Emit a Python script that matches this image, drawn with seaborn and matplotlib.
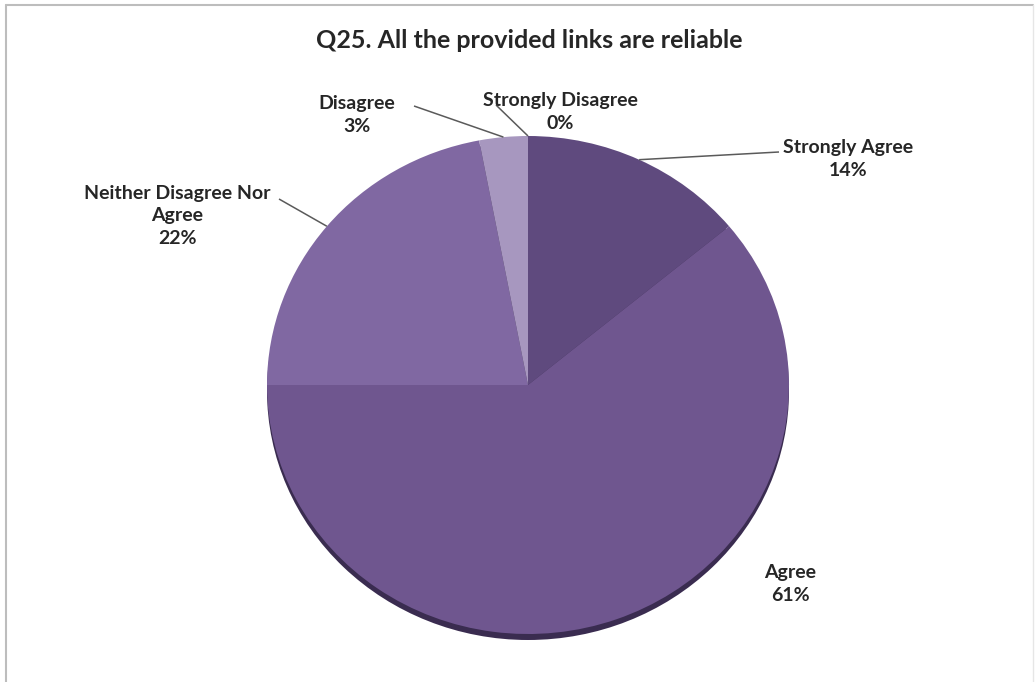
import numpy as np
import matplotlib
matplotlib.use("Agg")
import matplotlib.pyplot as plt
from matplotlib.patches import Ellipse
from matplotlib.lines import Line2D
import seaborn as sns

# Survey responses
categories = ["Strongly Agree", "Agree", "Neither Disagree Nor\nAgree", "Disagree", "Strongly Disagree"]
shares = [14, 61, 22, 3, 0]
title = "Q25. All the provided links are reliable"

sns.set_theme(style="white")
plt.rcParams["font.family"] = ["Lato", "DejaVu Sans"]

slice_colors = ["#5f4a7e", "#6f568f", "#8068a2", "#a797bf", "#b8aacd"]

W, H = 1036, 682
CX, CY = 528, 385     # pie centre (pixels from top-left)
RX, RY = 261, 249     # horizontal / vertical radius in pixels

fig = plt.figure(figsize=(W / 100, H / 100), dpi=100)
ax = fig.add_axes([0, 0, 1, 1])

def to_data(px, py):
    return (px - CX) / RX, (CY - py) / RY

# soft drop shadow under the pie
ax.add_patch(Ellipse((0, -6 / RY), 2, 2, facecolor="#3a2c50", edgecolor="none", zorder=0))

wedges, _ = ax.pie(shares, colors=slice_colors, startangle=90, counterclock=False,
                   radius=1, center=(0, 0), wedgeprops=dict(linewidth=0, edgecolor="none"))
for w in wedges:
    w.set_zorder(2)

ax.set_aspect("auto")
ax.set_xlim(-CX / RX, (W - CX) / RX)
ax.set_ylim((CY - H) / RY, CY / RY)
ax.axis("off")

# label placement (text centre, leader-line end) in pixels
label_pos = {
    0: ((848, 159), (779, 152)),
    1: ((790, 584), None),
    2: ((177, 216), (279, 199)),
    3: ((357, 115), (414, 106)),
    4: ((560, 112), (496, 105)),
}

total = sum(shares)
cum = 0.0
for i, (cat, v) in enumerate(zip(categories, shares)):
    mid = (cum + v / 2) / total * 2 * np.pi  # clockwise from 12 o'clock
    cum += v
    (tx, ty), line_end = label_pos[i]
    dx, dy = to_data(tx, ty)
    ax.text(dx, dy, f"{cat}\n{v}%", ha="center", va="center", fontsize=14,
            fontweight="bold", color="#262626", linespacing=1.4, zorder=5)
    if line_end is not None:
        ex, ey = np.sin(mid), np.cos(mid)
        lx, ly = to_data(*line_end)
        ax.plot([ex, lx], [ey, ly], color="#5a5a5a", lw=1.1, zorder=4, solid_capstyle="butt")

fig.text(529 / W, 1 - 40 / H, title, ha="center", va="center", fontsize=18,
         fontweight="bold", color="#262626")

# chart frame
frame_kw = dict(color="#bdbdbd", lw=1.5, transform=fig.transFigure)
fig.add_artist(Line2D([6 / W, 1033 / W], [1 - 5 / H, 1 - 5 / H], **frame_kw))
fig.add_artist(Line2D([6 / W, 6 / W], [0, 1 - 5 / H], **frame_kw))
fig.add_artist(Line2D([1033 / W, 1033 / W], [0, 1 - 5 / H], color="#e6e6e6", lw=1.0,
                      transform=fig.transFigure))

fig.savefig("out.png", dpi=100, facecolor="white")
